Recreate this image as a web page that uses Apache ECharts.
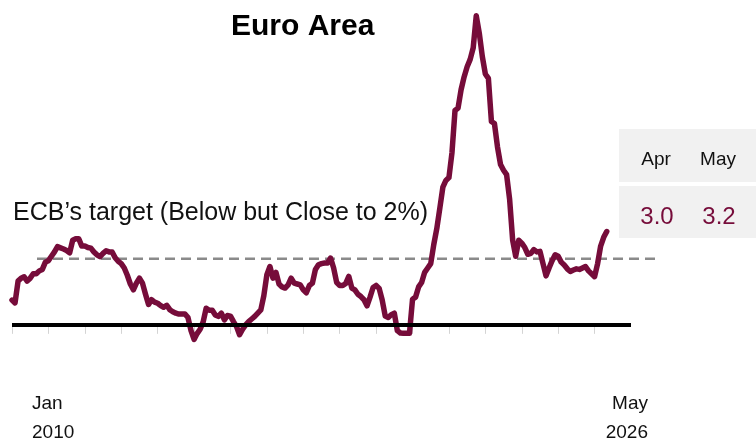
<!DOCTYPE html>
<html>
<head>
<meta charset="utf-8">
<script src="https://cdn.jsdelivr.net/npm/echarts/dist/echarts.min.js"></script>
<style>
  html, body { margin: 0; padding: 0; background: #fff; }
  #chart { width: 756px; height: 446px; }
</style>
</head>
<body>
<div id="chart"></div>
<script>
// ---- Data (monthly euro area inflation, %, Jan 2010 .. May 2026) ----
const inflation2010 = [0.85, 0.75, 1.5, 1.6, 1.65, 1.5, 1.6, 1.75, 1.75, 1.85, 1.9, 2.15];
const inflation2011 = [2.2, 2.35, 2.5, 2.68, 2.64, 2.6, 2.55, 2.47, 2.9, 2.95, 2.95, 2.7];
const inflation2012 = [2.7, 2.65, 2.63, 2.5, 2.4, 2.34, 2.45, 2.54, 2.5, 2.5, 2.3, 2.18];
const inflation2013 = [2.1, 1.95, 1.7, 1.4, 1.2, 1.43, 1.6, 1.43, 1.05, 0.7, 0.86, 0.78];
const inflation2014 = [0.74, 0.66, 0.6, 0.67, 0.52, 0.45, 0.4, 0.37, 0.37, 0.37, 0.25, -0.2];
const inflation2015 = [-0.5, -0.3, -0.15, 0.1, 0.57, 0.5, 0.5, 0.34, 0.29, 0.4, 0.17, 0.32];
const inflation2016 = [0.3, 0.11, -0.06, -0.34, -0.15, 0.0, 0.11, 0.2, 0.29, 0.4, 0.51, 1.0];
const inflation2017 = [1.72, 2.0, 1.6, 1.8, 1.4, 1.3, 1.26, 1.37, 1.6, 1.43, 1.4, 1.37];
const inflation2018 = [1.2, 1.1, 1.35, 1.43, 1.9, 2.06, 2.1, 2.12, 2.12, 2.29, 1.95, 1.45];
const inflation2019 = [1.35, 1.35, 1.42, 1.66, 1.26, 1.2, 1.05, 0.97, 0.86, 0.65, 0.95, 1.28];
const inflation2020 = [1.35, 1.25, 0.85, 0.3, 0.25, 0.35, 0.4, -0.2, -0.28, -0.29, -0.29, -0.29];
const inflation2021 = [0.88, 0.95, 1.3, 1.45, 1.8, 1.95, 2.1, 2.75, 3.3, 4.0, 4.72, 4.95];
const inflation2022 = [5.05, 5.9, 7.35, 7.43, 8.06, 8.5, 8.85, 9.1, 9.5, 10.6, 10.0, 9.2];
const inflation2023 = [8.6, 8.45, 6.97, 6.9, 6.1, 5.5, 5.3, 5.15, 4.3, 2.9, 2.35, 2.9];
const inflation2024 = [2.8, 2.65, 2.42, 2.45, 2.58, 2.5, 2.52, 2.1, 1.68, 1.95, 2.2, 2.4];
const inflation2025 = [2.35, 2.15, 2.05, 1.92, 1.83, 1.88, 1.92, 1.9, 1.95, 2.0, 1.85, 1.75];
const inflation2026 = [1.65, 2.1, 2.7, 3.0, 3.2];

const inflation = [].concat(inflation2010, inflation2011, inflation2012, inflation2013,
  inflation2014, inflation2015, inflation2016, inflation2017, inflation2018, inflation2019,
  inflation2020, inflation2021, inflation2022, inflation2023, inflation2024, inflation2025,
  inflation2026);

const targetLevel = 2.27;            // dashed "ECB's target" line as drawn
const zeroLevel = 0;
const targetLabel = 'ECB\u2019s target (Below but Close to 2%)';
const titleText = 'Euro Area';
const tableMonths = ['Apr', 'May'];
const tableValues = ['3.0', '3.2'];
const axisStartLabel = ['Jan', '2010'];
const axisEndLabel = ['May', '2026'];

// monthly categories Jan 2010 .. Jan 2027
const monthNames = ['Jan','Feb','Mar','Apr','May','Jun','Jul','Aug','Sep','Oct','Nov','Dec'];
const categories = [];
for (let y = 2010; y <= 2027; y++) {
  for (let m = 0; m < 12; m++) {
    categories.push(monthNames[m] + ' ' + y);
    if (y === 2027) break;
  }
}

const MAROON = '#760c3a';
const FONT = 'Liberation Sans, Arial, Helvetica, sans-serif';

const chart = echarts.init(document.getElementById('chart'), null, { renderer: 'canvas' });

const option = {
  animation: false,
  backgroundColor: '#ffffff',
  title: {
    text: titleText,
    left: 226,
    top: 7,
    textStyle: { fontFamily: FONT, fontSize: 30, fontWeight: 'bold', color: '#000' }
  },
  grid: [
    { left: 12, width: 619, top: 4, height: 350 },
    { left: 37, width: 622, top: 4, height: 350 }
  ],
  xAxis: [
    {
      type: 'category',
      data: categories,
      boundaryGap: false,
      z: 1,
      axisLine: { show: false, onZero: true },
      axisTick: {
        show: true,
        interval: function (i) { return i % 12 === 0 && i <= 192; },
        length: 9,
        lineStyle: { color: '#d4d4d4', width: 1 }
      },
      axisLabel: { show: false },
      splitLine: { show: false }
    },
    { type: 'value', gridIndex: 1, min: 0, max: 1, show: false }
  ],
  yAxis: [
    { type: 'value', min: -1, max: 11, show: false },
    { type: 'value', gridIndex: 1, min: -1, max: 11, show: false }
  ],
  series: [
    {
      type: 'line',
      xAxisIndex: 1,
      yAxisIndex: 1,
      data: [[0, targetLevel], [1, targetLevel]],
      symbol: 'none',
      silent: true,
      z: 1,
      lineStyle: { color: '#8a8a8a', width: 2.5, type: [10, 6] }
    },
    {
      type: 'line',
      data: inflation,
      symbol: 'none',
      z: 3,
      lineStyle: { color: MAROON, width: 5.5, join: 'round', cap: 'round' }
    },
    {
      type: 'line',
      data: [],
      z: 5,
      silent: true,
      markLine: {
        silent: true,
        symbol: 'none',
        animation: false,
        label: { show: false },
        lineStyle: { color: '#000', width: 4, type: 'solid' },
        data: [{ yAxis: zeroLevel }]
      }
    }
  ],
  graphic: [
    { type: 'text', left: 13, top: 201,
      style: { text: targetLabel, fill: '#111', font: '25px ' + FONT } },
    // table
    { type: 'rect', shape: { x: 619, y: 129, width: 137, height: 53 }, style: { fill: '#f1f1f1' } },
    { type: 'rect', shape: { x: 619, y: 186, width: 137, height: 52 }, style: { fill: '#f1f1f1' } },
    { type: 'text', x: 656, y: 160, style: { text: tableMonths[0], fill: '#111', font: '19px ' + FONT, align: 'center', verticalAlign: 'middle' } },
    { type: 'text', x: 718, y: 160, style: { text: tableMonths[1], fill: '#111', font: '19px ' + FONT, align: 'center', verticalAlign: 'middle' } },
    { type: 'text', x: 657, y: 217, style: { text: tableValues[0], fill: MAROON, font: '24px ' + FONT, align: 'center', verticalAlign: 'middle' } },
    { type: 'text', x: 719, y: 217, style: { text: tableValues[1], fill: MAROON, font: '24px ' + FONT, align: 'center', verticalAlign: 'middle' } },
    // axis end labels
    { type: 'text', x: 32, y: 404, style: { text: axisStartLabel[0], fill: '#111', font: '19px ' + FONT, align: 'left', verticalAlign: 'middle' } },
    { type: 'text', x: 32, y: 433, style: { text: axisStartLabel[1], fill: '#111', font: '19px ' + FONT, align: 'left', verticalAlign: 'middle' } },
    { type: 'text', x: 648, y: 404, style: { text: axisEndLabel[0], fill: '#111', font: '19px ' + FONT, align: 'right', verticalAlign: 'middle' } },
    { type: 'text', x: 648, y: 433, style: { text: axisEndLabel[1], fill: '#111', font: '19px ' + FONT, align: 'right', verticalAlign: 'middle' } }
  ]
};

chart.setOption(option);
</script>
</body>
</html>
